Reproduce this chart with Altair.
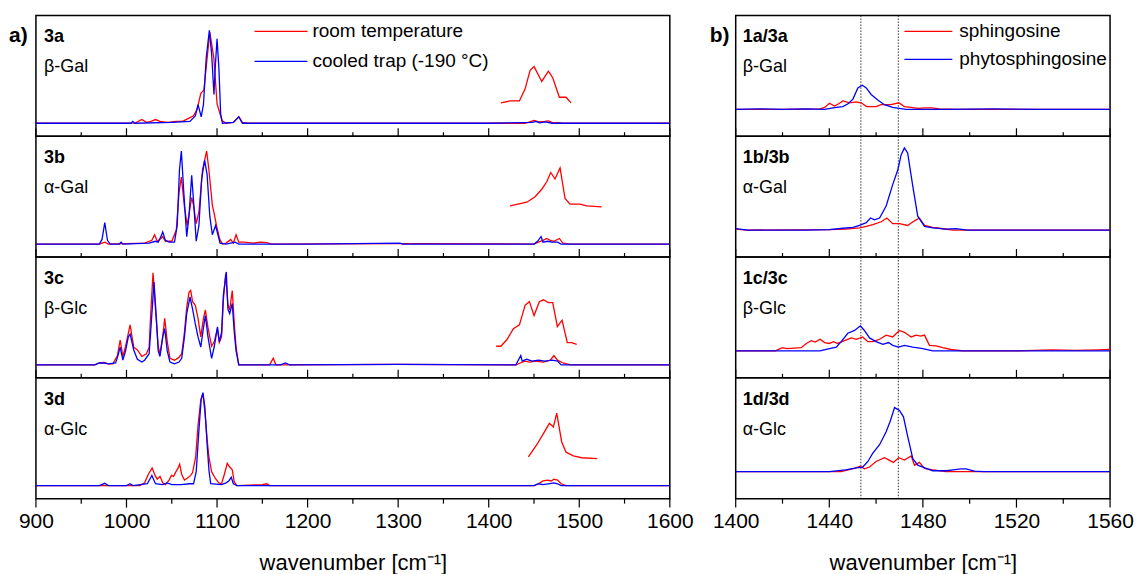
import altair as alt
import pandas as pd

FONT = "Liberation Sans"
RED = "#ff0000"
BLUE = "#0000ff"

left_series_names = ["room temperature", "cooled trap (-190 °C)"]
right_series_names = ["sphingosine", "phytosphingosine"]
left_labels = [("3a", "β-Gal"), ("3b", "α-Gal"), ("3c", "β-Glc"), ("3d", "α-Glc")]
right_labels = [("1a/3a", "β-Gal"), ("1b/3b", "α-Gal"), ("1c/3c", "β-Glc"), ("1d/3d", "α-Glc")]
column_tags = ["a)", "b)"]
left_ticks = list(range(900, 1601, 50))
right_ticks = list(range(1400, 1561, 20))
dotted_wn = [1453.5, 1469.5]
x_title = "wavenumber [cm⁻¹]"

# ---- left column spectra: [wavenumber, intensity] ----
s3a_room = [[900, 0], [1000, 0], [1010, 0.005], [1017, 0.04], [1022, 0.01], [1027, 0.02], [1032, 0.04],
            [1037, 0.02], [1045, 0.01], [1055, 0.02], [1062, 0.02], [1068, 0.05], [1074, 0.08], [1078, 0.15],
            [1082, 0.32], [1085.5, 0.36], [1088, 0.6], [1092, 0.98], [1096.5, 0.7], [1100, 0.21], [1105.5, 0.03],
            [1110, 0], [1118, 0.01], [1124, 0.07], [1128, 0.01], [1135, 0], [1440, 0], [1447, 0.02], [1450, 0.03],
            [1455, 0.015], [1462, 0.02], [1466, 0.025], [1470, 0.01], [1480, 0.005], [1600, 0]]
s3a_cooled = [[900, 0], [1005, 0], [1007, 0.02], [1009, 0], [1050, 0.01], [1060, 0.015], [1070, 0.02],
              [1076, 0.08], [1079, 0.2], [1082.5, 0.07], [1085, 0.2], [1088, 0.7], [1091.5, 1.0], [1094, 0.75],
              [1096.6, 0.31], [1098, 0.6], [1100, 0.91], [1102, 0.6], [1104, 0.1], [1106, 0], [1118, 0.01],
              [1124, 0.07], [1128, 0], [1400, 0], [1448, 0.01], [1452, 0.02], [1456, 0.005], [1462, 0.015],
              [1470, 0], [1600, 0]]
s3a_room_zoom = [[1413.4, 0.22], [1423.6, 0.24], [1433.9, 0.24], [1440.2, 0.37], [1445.7, 0.57], [1450.1, 0.61],
                 [1458.6, 0.45], [1465.9, 0.56], [1470.7, 0.49], [1478, 0.28], [1485.4, 0.28], [1490.9, 0.22]]

s3b_room = [[900, 0], [970, 0], [976, 0.02], [980, 0], [1020, 0.01], [1028, 0.04], [1031, 0.10], [1034, 0.03],
            [1038, 0.06], [1040, 0.08], [1043, 0.03], [1050, 0.03], [1055, 0.15], [1058, 0.55], [1060.6, 0.72],
            [1064, 0.4], [1067, 0.2], [1070, 0.38], [1072, 0.5], [1074, 0.42], [1077, 0.22], [1080, 0.35],
            [1084, 0.8], [1088.5, 1.0], [1091, 0.8], [1094.8, 0.42], [1097, 0.32], [1100, 0.17], [1103, 0.05],
            [1106, 0], [1110, 0.01], [1115, 0.05], [1118, 0.01], [1121, 0.10], [1124, 0.02], [1130, 0.02],
            [1140, 0.01], [1148, 0.02], [1155, 0.015], [1160, 0], [1300, 0.005], [1450, 0], [1455, 0.02],
            [1460, 0.04], [1464, 0.06], [1468, 0.04], [1472, 0.03], [1478, 0.06], [1482, 0.01], [1490, 0],
            [1600, 0]]
s3b_cooled = [[900, 0], [970, 0], [973, 0.05], [976, 0.23], [979, 0.04], [982, 0], [992, 0], [994, 0.02],
              [996, 0], [1025, 0.01], [1032, 0.03], [1035, 0.02], [1038, 0.08], [1040, 0.13], [1043, 0.04],
              [1047, 0.02], [1053, 0.02], [1056, 0.2], [1058.5, 0.8], [1060.6, 1.0], [1063, 0.6], [1066.5, 0.08],
              [1069, 0.3], [1072, 0.74], [1074.5, 0.4], [1077, 0.03], [1080, 0.2], [1083, 0.7], [1086.3, 0.9],
              [1089, 0.75], [1092, 0.3], [1094.8, 0.1], [1098.4, 0.2], [1101, 0.1], [1103.3, 0.01], [1110, 0],
              [1120, 0.02], [1124, 0], [1200, 0], [1302, 0.01], [1305, 0], [1450, 0], [1454, 0.03],
              [1457.8, 0.08], [1460, 0.02], [1465, 0.03], [1470, 0.02], [1476, 0.02], [1480, 0], [1600, 0]]
s3b_room_zoom = [[1423.6, 0.41], [1442.1, 0.45], [1451.2, 0.51], [1458.6, 0.59], [1464.1, 0.67], [1468.5, 0.77],
                 [1473.2, 0.70], [1478.8, 0.82], [1484.3, 0.49], [1489.8, 0.43], [1500.8, 0.43], [1508.2, 0.41],
                 [1524.7, 0.40]]

s3c_room = [[900, 0], [965, 0], [970, 0.02], [975, 0.025], [980, 0.01], [985, 0.01], [990, 0.1], [993, 0.265],
            [996, 0.09], [999, 0.2], [1004, 0.43], [1008, 0.19], [1012, 0.16], [1017, 0.09], [1022, 0.12],
            [1025, 0.19], [1026.5, 0.5], [1029.3, 0.99], [1032, 0.6], [1035, 0.2], [1037, 0.12], [1040, 0.3],
            [1042.2, 0.5], [1045, 0.25], [1048, 0.07], [1053, 0.05], [1058, 0.08], [1061, 0.12], [1064, 0.35],
            [1066.5, 0.62], [1069, 0.78], [1070.9, 0.8], [1073, 0.68], [1076, 0.64], [1079, 0.5], [1082, 0.3],
            [1085, 0.5], [1087.1, 0.59], [1090, 0.4], [1094, 0.2], [1097, 0.25], [1100.3, 0.39], [1102.5, 0.24],
            [1105, 0.3], [1107, 0.7], [1109.5, 0.98], [1112, 0.65], [1114, 0.59], [1116.8, 0.8], [1119, 0.45],
            [1121, 0.19], [1124, 0], [1158, 0], [1162, 0.07], [1165, 0], [1300, 0.005], [1430, 0], [1435, 0.02],
            [1440, 0.04], [1445, 0.03], [1452, 0.04], [1460, 0.03], [1468, 0.05], [1472, 0.1], [1476, 0.05],
            [1482, 0.02], [1490, 0], [1600, 0]]
s3c_cooled = [[900, 0], [965, 0], [970, 0.02], [975, 0.02], [980, 0.01], [988, 0.02], [990, 0.08], [993, 0.19],
              [996, 0.05], [999, 0.15], [1002, 0.3], [1004, 0.33], [1008, 0.16], [1012, 0.06], [1017, 0.03],
              [1020, 0.05], [1025, 0.12], [1027, 0.4], [1030.4, 0.89], [1033, 0.5], [1035, 0.15], [1037, 0.09],
              [1040, 0.3], [1042.2, 0.39], [1045, 0.15], [1048, 0.03], [1053, 0.01], [1058, 0.03], [1061, 0.07],
              [1064, 0.3], [1066.5, 0.55], [1070.1, 0.73], [1073, 0.6], [1076, 0.44], [1079, 0.3], [1082, 0.19],
              [1085, 0.4], [1087.1, 0.53], [1090, 0.3], [1094, 0.07], [1097, 0.2], [1100.5, 0.41], [1102.5, 0.25],
              [1105, 0.35], [1107, 0.75], [1110.2, 1.0], [1112, 0.6], [1114, 0.55], [1116.8, 0.66], [1119, 0.35],
              [1121, 0.15], [1124, 0], [1170, 0], [1175.5, 0.02], [1180, 0], [1300, 0.005], [1430, 0],
              [1435.4, 0.1], [1437, 0.04], [1442, 0.06], [1448, 0.04], [1455, 0.05], [1462, 0.04], [1470, 0.05],
              [1476, 0.04], [1480, 0], [1600, 0]]
s3c_room_zoom = [[1408.2, 0.20], [1413.4, 0.20], [1420.0, 0.27], [1427.3, 0.39], [1433.9, 0.43], [1440.2, 0.64],
                 [1444.9, 0.68], [1450.1, 0.53], [1455.9, 0.68], [1460.4, 0.70], [1465.9, 0.67], [1470.7, 0.67],
                 [1475.8, 0.41], [1481.0, 0.48], [1486.8, 0.24], [1491.7, 0.24], [1497.2, 0.22]]

s3d_room = [[900, 0], [1015, 0], [1020, 0.03], [1024, 0.12], [1028.3, 0.19], [1031.6, 0.11], [1034, 0.07],
            [1037, 0.1], [1040, 0.03], [1043, 0.01], [1047, 0.06], [1049.7, 0.11], [1052, 0.1], [1054, 0.14],
            [1056.5, 0.18], [1058.7, 0.23], [1061, 0.12], [1064, 0.06], [1067, 0.08], [1070.9, 0.11],
            [1073, 0.14], [1076.4, 0.31], [1079, 0.65], [1082, 0.92], [1084.4, 0.99], [1087, 0.75], [1089, 0.5],
            [1091, 0.31], [1094, 0.15], [1098, 0.08], [1102, 0.03], [1105, 0.02], [1108, 0.12], [1111.3, 0.24],
            [1114, 0.2], [1116.8, 0.17], [1119, 0.04], [1122, 0], [1150, 0.01], [1155, 0.02], [1158, 0],
            [1450, 0], [1455, 0.02], [1460, 0.05], [1465, 0.06], [1469, 0.05], [1472, 0.07], [1476, 0.06],
            [1480, 0.02], [1485, 0], [1600, 0]]
s3d_cooled = [[900, 0], [970, 0], [976, 0.025], [980, 0], [1000, 0], [1004, 0.02], [1007, 0], [1023, 0.02],
              [1028, 0.11], [1032, 0.02], [1040, 0.01], [1045, 0.03], [1050, 0.01], [1060, 0.01], [1070, 0.02],
              [1074, 0.02], [1077, 0.15], [1080, 0.6], [1082.5, 0.93], [1084.4, 1.0], [1086.5, 0.85],
              [1089, 0.45], [1091, 0.17], [1093, 0.02], [1105, 0.01], [1110, 0.03], [1113, 0.05], [1115.7, 0.09],
              [1118, 0.02], [1122, 0], [1450, 0], [1455, 0.02], [1460, 0.01], [1466, 0.02], [1472, 0.03],
              [1476, 0.02], [1480, 0], [1600, 0]]
s3d_room_zoom = [[1443.8, 0.31], [1453.1, 0.44], [1460.4, 0.56], [1467.0, 0.67], [1471.4, 0.63], [1475.1, 0.78],
                 [1480.6, 0.47], [1485.4, 0.36], [1493.4, 0.32], [1502.7, 0.30], [1519.9, 0.29]]

# ---- right column spectra ----
s1a_sph = [[1400, 0], [1420, 0], [1436, 0.005], [1438, 0.02], [1440.1, 0.065], [1442.2, 0.035], [1444, 0.06],
           [1445.8, 0.09], [1448.6, 0.07], [1451.5, 0.08], [1453.6, 0.07], [1456, 0.03], [1460, 0.03],
           [1462.2, 0.05], [1466.4, 0.05], [1469.7, 0.07], [1472.1, 0.03], [1475, 0.02], [1478, 0.01],
           [1481, 0.015], [1484, 0.015], [1487, 0.005], [1495, 0], [1560, 0]]
s1a_phyto = [[1400, 0], [1410, 0.005], [1420, 0], [1430, 0.005], [1438, 0], [1443, 0.02], [1445.8, 0.03],
             [1448, 0.06], [1450.1, 0.11], [1452.2, 0.23], [1454.1, 0.26], [1455.8, 0.23], [1457.9, 0.16],
             [1460.7, 0.1], [1463.6, 0.05], [1467.1, 0.02], [1472.8, 0], [1490, 0], [1510, 0.005], [1530, 0],
             [1560, 0]]
s1b_sph = [[1400, 0.01], [1405, 0], [1440, 0.005], [1447, 0.01], [1452.9, 0.025], [1455.8, 0.04], [1458.6, 0.06],
           [1462.2, 0.09], [1464.6, 0.13], [1467.1, 0.07], [1470, 0.07], [1473.5, 0.05], [1476.4, 0.1],
           [1478.5, 0.13], [1480.7, 0.05], [1484.2, 0.03], [1487, 0.02], [1493, 0], [1560, 0]]
s1b_phyto = [[1400, 0.015], [1405, 0], [1430, 0], [1440, 0.005], [1445.8, 0.02], [1450.1, 0.03], [1452.9, 0.05],
             [1455.8, 0.08], [1457.6, 0.13], [1459.3, 0.11], [1461.5, 0.13], [1464.3, 0.26], [1467.1, 0.49],
             [1469.3, 0.65], [1470.7, 0.81], [1472.1, 0.885], [1473.5, 0.83], [1475.7, 0.47], [1477.8, 0.15],
             [1480.7, 0.04], [1484.2, 0.025], [1490, 0.01], [1494.2, 0.015], [1499, 0], [1560, 0]]
s1c_sph = [[1400, 0], [1417, 0], [1419.9, 0.035], [1422, 0.025], [1428, 0.035], [1430.2, 0.08], [1432.3, 0.11],
           [1434, 0.095], [1436.1, 0.125], [1438, 0.09], [1440, 0.08], [1441.8, 0.1], [1443.5, 0.08],
           [1446.5, 0.11], [1449.4, 0.14], [1451.5, 0.125], [1454.3, 0.15], [1456.5, 0.1], [1458.7, 0.1],
           [1461.5, 0.125], [1464.3, 0.17], [1467.1, 0.15], [1470, 0.22], [1472.1, 0.2], [1475, 0.15],
           [1477.1, 0.17], [1479, 0.16], [1480.7, 0.17], [1482.8, 0.06], [1485.6, 0.055], [1488.5, 0.035],
           [1492, 0.015], [1497, 0], [1520, 0], [1535, 0.01], [1545, 0.005], [1555, 0.01], [1560, 0.015]]
s1c_phyto = [[1400, 0], [1436, 0], [1440.1, 0.025], [1443, 0.04], [1445.1, 0.1], [1447.9, 0.19], [1450.8, 0.22],
             [1453.3, 0.27], [1455, 0.22], [1457.2, 0.14], [1460, 0.1], [1462.9, 0.07], [1465.3, 0.09],
             [1467.1, 0.06], [1469.6, 0.04], [1472.1, 0.06], [1475.7, 0.04], [1480, 0.025], [1484.2, 0],
             [1560, 0]]
s1d_sph = [[1400, 0], [1445, 0], [1450.8, 0.036], [1453.2, 0.06], [1455, 0.03], [1457.2, 0.05], [1460, 0.11],
           [1463.6, 0.15], [1465.6, 0.125], [1467.4, 0.1], [1469.7, 0.15], [1472.1, 0.125], [1475, 0.17],
           [1476.4, 0.07], [1478.5, 0.1], [1480.7, 0.036], [1484.2, 0.02], [1490, 0], [1560, 0]]
s1d_phyto = [[1400, 0], [1440, 0], [1447, 0.02], [1451.5, 0.04], [1454.3, 0.05], [1456.5, 0.11], [1458.6, 0.2],
             [1461.5, 0.29], [1464.3, 0.43], [1466, 0.54], [1467.9, 0.69], [1470, 0.66], [1471.7, 0.59],
             [1473.5, 0.38], [1475.7, 0.14], [1477.8, 0.07], [1481.4, 0.036], [1484.2, 0.01], [1490, 0.01],
             [1493, 0.02], [1496.3, 0.03], [1498.5, 0.03], [1502, 0.005], [1506, 0], [1560, 0]]

left_panels = [(s3a_room, s3a_cooled, s3a_room_zoom), (s3b_room, s3b_cooled, s3b_room_zoom),
               (s3c_room, s3c_cooled, s3c_room_zoom), (s3d_room, s3d_cooled, s3d_room_zoom)]
right_panels = [(s1a_sph, s1a_phyto, None), (s1b_sph, s1b_phyto, None),
                (s1c_sph, s1c_phyto, None), (s1d_sph, s1d_phyto, None)]

H = 121
PX = 93.0  # pixels per intensity unit


def panel(col, i, red, blue, zoom):
    left = col == 0
    names = left_series_names if left else right_series_names
    rows = []
    for wn, v in red:
        rows.append((wn, v, names[0], "a"))
    for wn, v in blue:
        rows.append((wn, v, names[1], "b"))
    if zoom is not None:
        for wn, v in zoom:
            rows.append((wn, v, names[0], "c"))
    df = pd.DataFrame(rows, columns=["wn", "val", "series", "trace"])

    xdom = [900, 1600] if left else [1400, 1560]
    ticks = left_ticks if left else right_ticks
    major = 100 if left else 40
    majors = [t for t in ticks if t % major == 0]
    ydom = [-0.14, 1.16] if left else [-0.29, 1.01]
    width = 635 if left else 375
    xs = alt.Scale(domain=xdom, nice=False, zero=False)
    ys = alt.Scale(domain=ydom, nice=False, zero=False)
    cs = alt.Scale(domain=names, range=[RED, BLUE])
    last = i == 3

    if last:
        x_axis = alt.Axis(
            orient="bottom", values=majors, format="d", labelFlush=False, labelOverlap=False,
            labelFontSize=21, labelColor="black", labelPadding=12, ticks=False,
            domain=False, grid=False,
            title=x_title, titleFontSize=22, titleFontWeight="normal", titleColor="black", titlePadding=21)
    else:
        x_axis = None

    # tick marks drawn as two-point segments from the lower edge of the panel:
    # pointing up into stacked panels, pointing down below the last one
    trows = []
    for t in ticks:
        length = (9 if t % major == 0 else 5) if last else (8 if t % major == 0 else 4)
        end = ydom[0] - length / PX if last else ydom[0] + length / PX
        trows.append((float(t), ydom[0], str(t)))
        trows.append((float(t), end, str(t)))
    tick_df = pd.DataFrame(trows, columns=["wn", "yv", "tick"])

    layers = []
    if not left:
        layers.append(alt.Chart(pd.DataFrame({"wn": dotted_wn})).mark_rule(
            color="black", strokeWidth=0.8, strokeDash=[1.5, 1.5]).encode(
            x=alt.X("wn:Q", scale=xs, axis=x_axis)))
    layers.append(alt.Chart(df).mark_line(strokeWidth=1.3, clip=True).encode(
        x=alt.X("wn:Q", scale=xs, axis=x_axis),
        y=alt.Y("val:Q", scale=ys, axis=None),
        color=alt.Color("series:N", scale=cs, legend=None),
        detail="trace:N"))
    layers.append(alt.Chart(tick_df).mark_line(color="black", strokeWidth=1.2).encode(
        x=alt.X("wn:Q", scale=xs, axis=x_axis),
        y=alt.Y("yv:Q", scale=ys, axis=None),
        detail="tick:N"))

    lab, sub = (left_labels if left else right_labels)[i]
    lx = 8 if left else 7
    layers.append(alt.Chart(pd.DataFrame({"t": [lab]})).mark_text(
        align="left", baseline="alphabetic", fontSize=18, fontWeight="bold", color="black").encode(
        x=alt.value(lx), y=alt.value(27), text="t:N"))
    layers.append(alt.Chart(pd.DataFrame({"t": [sub]})).mark_text(
        align="left", baseline="alphabetic", fontSize=18, color="black").encode(
        x=alt.value(lx), y=alt.value(57), text="t:N"))

    if i == 0:
        layers.append(alt.Chart(pd.DataFrame({"t": [column_tags[col]]})).mark_text(
            align="left", baseline="alphabetic", fontSize=21, fontWeight="bold", color="black").encode(
            x=alt.value(-27 if left else -26), y=alt.value(27), text="t:N"))
        if left:
            x0, x1, tx, ypos = 219, 272, 277, [16, 46]
        else:
            x0, x1, tx, ypos = 169, 217, 224, [16, 44]
        for k, name in enumerate(names):
            leg = pd.DataFrame({"name": [name]})
            layers.append(alt.Chart(leg).mark_rule(strokeWidth=1.3).encode(
                x=alt.value(x0), x2=alt.value(x1), y=alt.value(ypos[k]),
                color=alt.Color("name:N", scale=cs, legend=None)))
            layers.append(alt.Chart(leg).mark_text(
                align="left", baseline="middle", fontSize=19, color="black").encode(
                x=alt.value(tx), y=alt.value(ypos[k]), text="name:N"))

    return alt.layer(*layers).properties(width=width, height=H)


charts = []
for i in range(4):
    charts.append(panel(0, i, *left_panels[i]))
    charts.append(panel(1, i, *right_panels[i]))

chart = alt.concat(*charts, columns=2, spacing={"row": 0, "column": 66}, bounds="flush").resolve_scale(
    color="independent").properties(
    padding={"left": 8, "top": 13, "right": 3, "bottom": 5}
).configure(font=FONT).configure_view(stroke="black", strokeWidth=1.5)

chart.save("out.html", embed_options={"renderer": "svg", "actions": False})
